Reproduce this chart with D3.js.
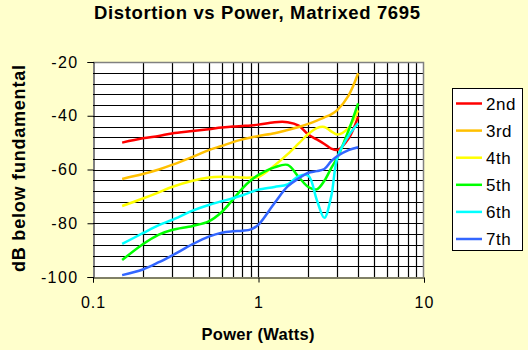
<!DOCTYPE html>
<html><head><meta charset="utf-8">
<script src="https://cdn.jsdelivr.net/npm/d3@7"></script>
<style>
body{margin:0;background:#FFFFCC;}
svg{display:block;font-family:"Liberation Sans",Arial,sans-serif;}
</style></head>
<body><svg id="c" width="528" height="350"></svg>
<script>
const power = [0.15,0.2,0.25,0.3,0.4,0.5,0.6,0.7,0.8,0.9,1,1.25,1.5,1.75,2,2.25,2.5,2.75,3,3.5,4];
const seriesNames = ["2nd","3rd","4th","5th","6th","7th"];
const seriesColors = ["#FF0000","#FFC000","#FFFF00","#00FF00","#00FFFF","#3366FF"];
const h2 = [-50,-48.4,-47.5,-46.6,-45.7,-45,-44.4,-44,-43.8,-43.6,-43.3,-42.4,-42.4,-43.7,-47,-48.8,-50.5,-52.2,-52.7,-48.5,-40.3];
const h3 = [-63.5,-61.7,-60,-58.3,-55.3,-52.8,-51.2,-49.8,-48.8,-48.1,-47.5,-46.5,-45.3,-44.2,-43,-41.8,-40.6,-39.5,-37.8,-32.5,-24.2];
const h4 = [-73.6,-70.8,-68.5,-66.5,-64.2,-63,-62.7,-62.8,-63,-63,-62.8,-58.5,-54.3,-50.3,-46.8,-44.6,-44.2,-45.8,-47,-44.5,-38];
const h5 = [-93.7,-87.8,-84.2,-82.5,-81,-79.3,-75.8,-71.2,-67,-64,-62,-59.2,-58.3,-62.8,-66.5,-67.4,-64.2,-59.5,-55.5,-45.5,-35.4];
const h6 = [-87.7,-83.7,-80.7,-78.8,-75.3,-73.2,-71.8,-70.7,-69.6,-68.4,-67.5,-66.5,-65.5,-62.5,-62.3,-71.3,-78,-70,-55.5,-47.5,-42.8];
const h7 = [-99.3,-97.2,-94.5,-92,-87.8,-85,-83.5,-83,-82.8,-82.3,-80.5,-72.5,-66.3,-63.3,-61.2,-60.6,-59.8,-56.9,-55,-52.8,-51.7];
const seriesValues = [h2,h3,h4,h5,h6,h7];
const yTicks = [-20,-40,-60,-80,-100];
const xTicks = [0.1,1,10];
const titleText = "Distortion vs Power, Matrixed 7695";
const xTitle = "Power (Watts)";
const yTitle = "dB below fundamental";

const svg = d3.select("#c");
const L=93,R=424,T=62,B=277;
const x = d3.scaleLog().domain([0.1,10]).range([L,R]);
const y = d3.scaleLinear().domain([-100,-20]).range([B,T]);

svg.append("rect").attr("width",528).attr("height",350).attr("fill","#FFFFCC");
svg.append("rect").attr("x",L).attr("y",T).attr("width",R-L).attr("height",B-T).attr("fill","#FFFFFF");

// grid
const hGrid = d3.range(-96,-20,4);
svg.append("g").selectAll("line").data(hGrid).join("line")
  .attr("x1",L).attr("x2",R).attr("y1",d=>Math.round(y(d))+0.5).attr("y2",d=>Math.round(y(d))+0.5)
  .attr("stroke","#000").attr("stroke-width",1.2);
const vGrid = [];
[0.1,1].forEach(b=>{for(let k=2;k<=9;k++) vGrid.push(b*k);});
vGrid.push(1);
svg.append("g").selectAll("line").data(vGrid).join("line")
  .attr("y1",T).attr("y2",B).attr("x1",d=>Math.round(x(d))+0.5).attr("x2",d=>Math.round(x(d))+0.5)
  .attr("stroke","#000").attr("stroke-width",1.2);

// border top/right gray
svg.append("path").attr("d",`M${L},${T+0.5}H${R-0.5}V${B}`).attr("fill","none").attr("stroke","#808080").attr("stroke-width",1.5);

const fontFam = "Liberation Sans, Arial, sans-serif";
// axes
const yAxis = d3.axisLeft(y).tickValues(yTicks).tickSize(6).tickPadding(9).tickFormat(d=>String(d));
const gy = svg.append("g").attr("transform",`translate(${L+0.5},0)`).call(yAxis);
gy.select(".domain").attr("stroke","#000");
gy.selectAll("line").attr("stroke","#000");
gy.selectAll("text").attr("font-size",16).attr("letter-spacing",1.4).attr("fill","#000").attr("font-family",fontFam);
const xAxis = d3.axisBottom(x).tickValues(xTicks).tickSize(5).tickPadding(14).tickFormat(d=>String(d));
const gx = svg.append("g").attr("transform",`translate(0,${B+0.5})`).call(xAxis);
gx.select(".domain").attr("stroke","#000");
gx.selectAll("line").attr("stroke","#000");
gx.selectAll("text").attr("font-size",16).attr("letter-spacing",1).attr("fill","#000").attr("font-family",fontFam);

// lines
const line = d3.line().x((d,i)=>x(power[i])).y(d=>y(d)).curve(d3.curveCatmullRom.alpha(0.5));
svg.append("g").selectAll("path").data(seriesValues).join("path")
  .attr("d",d=>line(d)).attr("fill","none")
  .attr("stroke",(d,i)=>seriesColors[i]).attr("stroke-width",2.5).attr("stroke-linejoin","round");

// titles
svg.append("text").attr("x",257).attr("y",18.5).attr("text-anchor","middle")
  .attr("font-size",18.5).attr("font-weight","bold")
  .attr("textLength",326).attr("lengthAdjust","spacing").text(titleText);
svg.append("text").attr("x",258).attr("y",340).attr("text-anchor","middle")
  .attr("font-size",16.5).attr("font-weight","bold")
  .attr("textLength",113).attr("lengthAdjust","spacing").text(xTitle);
svg.append("text").attr("transform","translate(25,168.5) rotate(-90)").attr("text-anchor","middle")
  .attr("font-size",18).attr("font-weight","bold")
  .attr("textLength",207).attr("lengthAdjust","spacing").text(yTitle);

// legend
const lg = svg.append("g");
lg.append("rect").attr("x",452.5).attr("y",88.5).attr("width",70).attr("height",162).attr("fill","#FFFFFF").attr("stroke","#000");
seriesNames.forEach((n,i)=>{
  const cy = 103.5 + i*27.1;
  lg.append("line").attr("x1",456).attr("x2",482).attr("y1",cy).attr("y2",cy).attr("stroke",seriesColors[i]).attr("stroke-width",2.5);
  lg.append("text").attr("x",486).attr("y",cy+6).attr("font-size",17).attr("letter-spacing",0.5).text(n);
});
</script></body></html>
